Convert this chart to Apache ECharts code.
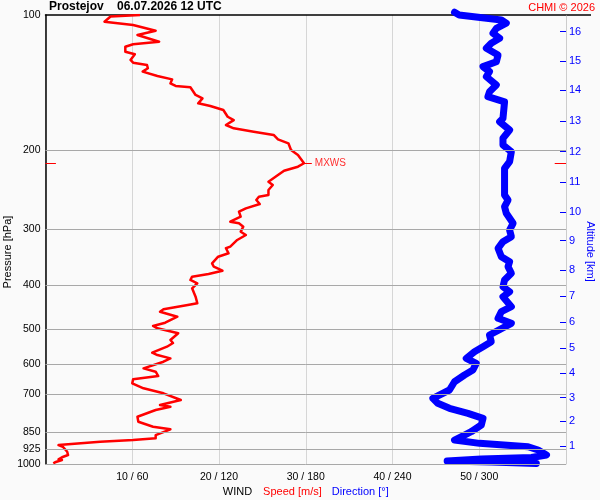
<!DOCTYPE html>
<html>
<head>
<meta charset="utf-8">
<script src="https://cdn.jsdelivr.net/npm/echarts@6.0.0/dist/echarts.min.js"></script>
<style>
html,body{margin:0;padding:0;background:#fafafa;}
#chart{width:600px;height:500px;}
</style>
</head>
<body>
<div id="chart"></div>
<script>
// ---- Data ----
// Wind speed profile [m/s] at pressure levels [hPa]
const speedPressure = [100, 100.8, 103.5, 105.3, 108.4, 110.8, 114.7, 116.2, 117.7, 120.7,
  122.3, 125.9, 127.7, 129.2, 131.4, 133.7, 136.7, 139.1, 142.0, 143.9,
  144.9, 150.7, 153.3, 157.3, 159.5, 162.8, 168.5, 171.4, 175.8, 178.8,
  181.9, 185.0, 189.2, 193.1, 199.8, 205.0, 213.9, 217.7, 222.2, 227.2,
  235.1, 239.1, 245.3, 251.7, 253.9, 258.3, 263.6, 269.5, 274.2, 281.3,
  288.6, 291.0, 296.1, 303.8, 309.0, 317.0, 328.1, 330.8, 339.4, 345.4,
  357.3, 363.6, 371.1, 377.5, 382.7, 389.2, 395.9, 406.2, 424.0, 438.6,
  442.5, 452.3, 457.9, 469.8, 484.5, 492.8, 498.7, 511.6, 529.5, 537.7,
  548.0, 565.1, 571.9, 581.7, 591.9, 612.3, 623.0, 636.9, 647.8, 661.2,
  678.4, 696.0, 720.3, 739.0, 745.5, 758.2, 784.7, 805.1, 826.0, 837.1,
  862.0, 876.8, 884.5, 892.2, 907.4, 915.4, 939.3, 955.0, 966.2, 976.2,
  979.7, 991.3, 996.4];
const speedValues = [10.9, 7.5, 6.8, 10.1, 12.7, 10.6, 13.1, 10.1, 9.2, 9.2,
  10.3, 9.8, 10.1, 11.7, 11.8, 11.2, 12.9, 14.6, 14.4, 15.0,
  16.7, 17.3, 18.1, 17.6, 19.0, 20.5, 21.0, 21.7, 20.8, 21.7,
  24.0, 26.3, 26.8, 28.0, 28.3, 29.1, 29.8, 29.1, 27.5, 26.8,
  25.7, 26.2, 25.7, 25.7, 24.6, 24.3, 24.7, 23.1, 22.3, 22.5,
  21.3, 22.3, 22.8, 22.5, 23.1, 22.1, 21.3, 20.8, 21.1, 19.9,
  19.2, 19.4, 20.4, 18.8, 16.9, 16.7, 17.5, 16.9, 17.3, 17.5,
  16.4, 13.6, 13.2, 15.2, 13.8, 12.4, 12.9, 15.3, 14.4, 14.7,
  14.0, 12.3, 12.9, 14.4, 13.6, 11.3, 12.7, 13.0, 10.1, 10.0,
  11.3, 13.6, 15.6, 13.2, 14.4, 12.7, 10.6, 10.7, 12.4, 14.4,
  12.7, 12.7, 10.1, 6.3, 1.5, 2.0, 2.5, 2.6, 1.9, 1.5,
  1.9, 1.1, 0.9];

// Wind direction profile [deg] at pressure levels [hPa]
const dirPressure = [98.6, 100, 102.6, 104.3, 107.1, 109.8, 112.7, 115.6, 118.6, 122.8,
  127.1, 130.3, 133.7, 137.2, 143.2, 148.2, 152.0, 156.1, 169.9, 172.9,
  180.4, 188.2, 194.8, 201.6, 212.2, 219.5, 251.7, 258.3, 267.3, 276.5,
  291.0, 301.2, 311.7, 319.8, 330.8, 345.4, 354.4, 363.4, 376.1, 389.2,
  402.9, 413.3, 424.0, 446.3, 457.9, 473.6, 486.1, 516.1, 534.1, 548.0,
  562.2, 581.7, 596.8, 617.6, 633.6, 655.8, 684.2, 714.1, 732.5, 751.6,
  771.1, 791.2, 818.8, 847.4, 862.0, 884.5, 899.5, 915.4, 930.7, 955.0,
  967.2, 974.6, 984.7, 989.8, 997.4];
const dirValues = [282.9, 286.1, 315.3, 318.7, 311.8, 309.5, 314.1, 308.3, 304.9, 313.0,
  311.8, 302.6, 307.1, 304.9, 311.8, 307.1, 306.0, 317.5, 316.4, 314.1,
  321.0, 316.4, 316.4, 322.2, 321.0, 317.5, 317.5, 319.9, 317.5, 318.7,
  323.4, 321.0, 322.2, 316.4, 313.0, 315.3, 321.0, 319.9, 322.2, 317.5,
  316.4, 321.0, 316.4, 322.2, 315.3, 313.0, 322.2, 307.1, 308.3, 302.6,
  296.7, 291.0, 297.9, 295.6, 289.8, 282.9, 279.4, 267.9, 271.3, 279.4,
  292.2, 302.6, 301.4, 294.4, 289.8, 282.9, 300.2, 333.8, 340.7, 346.5,
  336.1, 301.4, 277.8, 308.3, 339.5];

// Axis tick labels
const pressureTicks = [100, 200, 300, 400, 500, 600, 700, 850, 925, 1000];
const speedTicks = [10, 20, 30, 40, 50];
const altitudeKm = [1, 2, 3, 4, 5, 6, 7, 8, 9, 10, 11, 12, 13, 14, 15, 16];
const altitudePressure = [911.7, 803.5, 711.9, 628.1, 552.5, 482.8, 423.2, 369.3, 318.2, 275.1,
  235.9, 201.6, 172.0, 147.1, 126.6, 108.9];

// ---- Chart ----
const FONT = "'Liberation Sans', Arial, sans-serif";
let maxIdx = 0;
speedValues.forEach((v, i) => { if (v > speedValues[maxIdx]) maxIdx = i; });
const mxS = speedValues[maxIdx];
const mxP = speedPressure[maxIdx];

function kmFor(v) {
  let best = 0, bd = Infinity;
  altitudePressure.forEach((p, i) => {
    const d = Math.abs(Math.log(p) - Math.log(v));
    if (d < bd) { bd = d; best = i; }
  });
  return String(altitudeKm[best]);
}

const chart = echarts.init(document.getElementById('chart'), null, { renderer: 'canvas' });
const option = {
  backgroundColor: '#fafafa',
  animation: false,
  textStyle: { fontFamily: FONT },
  title: [
    { text: 'Prostejov    06.07.2026 12 UTC', left: 49, top: 1, padding: 0,
      textStyle: { fontSize: 12, fontWeight: 'bold', color: '#000', fontFamily: FONT } },
    { text: 'CHMI \u00A9 2026', right: 5, top: 2, padding: 0,
      textStyle: { fontSize: 11, fontWeight: 'normal', color: '#ff0000', fontFamily: FONT } }
  ],
  grid: { left: 45.5, right: 34, top: 15, bottom: 36, containLabel: false, outerBoundsMode: 'none' },
  xAxis: [
    { type: 'value', min: 0, max: 60, interval: 10, position: 'bottom',
      axisLine: { show: false, onZero: false }, axisTick: { show: false },
      splitLine: { show: true, lineStyle: { color: '#d6d6d6', width: 1 } },
      axisLabel: { fontSize: 10.5, color: '#000', margin: 8, fontFamily: FONT,
        formatter: v => speedTicks.indexOf(v) >= 0 ? v + ' / ' + v * 6 : '' },
      name: '{a|WIND}{b|Speed [m/s]}{c|Direction [\u00B0]}',
      nameLocation: 'middle', nameGap: 22, nameMoveOverlap: false,
      nameTextStyle: { fontFamily: FONT, rich: {
        a: { color: '#000', fontSize: 11, fontFamily: FONT },
        b: { color: '#ff0000', fontSize: 11, fontFamily: FONT, padding: [0, 10, 0, 11] },
        c: { color: '#0000ff', fontSize: 11, fontFamily: FONT } } } },
    { type: 'value', min: 0, max: 360, position: 'top',
      axisLine: { show: true, onZero: false, lineStyle: { color: '#000', width: 1.5 } },
      axisTick: { show: false }, axisLabel: { show: false }, splitLine: { show: false } }
  ],
  yAxis: [
    { type: 'log', logBase: 10, min: 100, max: 1000, inverse: true, position: 'left',
      axisLine: { show: true, onZero: false, lineStyle: { color: '#000', width: 1.5 } },
      axisTick: { show: false }, splitLine: { show: false }, minorTick: { show: false },
      axisLabel: { customValues: pressureTicks, formatter: v => String(Math.round(v)),
        fontSize: 10.5, color: '#000', margin: 5, fontFamily: FONT },
      name: 'Pressure [hPa]', nameLocation: 'middle', nameGap: 32, nameRotate: 90, nameMoveOverlap: false,
      nameTextStyle: { fontSize: 11, color: '#000', fontFamily: FONT, padding: [0, 25, 0, 0] } },
    { type: 'log', logBase: 10, min: 100, max: 1000, inverse: true, position: 'right',
      axisLine: { show: true, onZero: false, lineStyle: { color: '#cccccc', width: 1 } },
      axisTick: { show: true, inside: true, length: 6, customValues: altitudePressure,
        lineStyle: { color: '#0000ff', width: 1 } },
      splitLine: { show: false }, minorTick: { show: false },
      axisLabel: { customValues: altitudePressure, formatter: v => kmFor(v),
        fontSize: 11, color: '#0000ff', margin: 3, fontFamily: FONT },
      name: 'Altitude [km]', nameLocation: 'middle', nameGap: 19, nameRotate: -90, nameMoveOverlap: false,
      nameTextStyle: { fontSize: 11, color: '#0000ff', fontFamily: FONT, padding: [0, 0, 0, 24] } }
  ],
  graphic: [
    { type: 'line', shape: { x1: 566, y1: 15, x2: 591, y2: 15 }, style: { stroke: '#000', lineWidth: 1.5 }, silent: true }
  ],
  series: [
    { type: 'line', name: 'grid', xAxisIndex: 0, yAxisIndex: 0, data: [], silent: true, z: 1,
      markLine: { silent: true, symbol: ['none', 'none'], label: { show: false },
        lineStyle: { color: '#a8a8a8', width: 1, type: 'solid' },
        data: pressureTicks.filter(p => p > 100).map(p => ({ yAxis: p })) } },
    { type: 'line', name: 'Speed', xAxisIndex: 0, yAxisIndex: 0, z: 3,
      data: speedValues.map((s, i) => [s, speedPressure[i]]),
      symbol: 'none', showSymbol: false,
      lineStyle: { color: '#ff0000', width: 2.5, join: 'round' },
      markLine: { silent: true, symbol: ['none', 'none'], label: { show: false },
        lineStyle: { color: '#ff0000', width: 1, type: 'solid' },
        data: [
          [ { coord: [mxS, mxP], label: { show: true, position: 'end', formatter: 'MXWS',
                color: '#ff3030', fontSize: 10, distance: 3, fontFamily: FONT } },
            { coord: [mxS + 0.9, mxP] } ],
          [ { coord: [0, mxP] }, { coord: [1.2, mxP] } ],
          [ { coord: [58.7, mxP] }, { coord: [60, mxP] } ]
        ] } },
    { type: 'line', name: 'Direction', xAxisIndex: 1, yAxisIndex: 0, z: 4, clip: false,
      data: dirValues.map((d, i) => [d, dirPressure[i]]),
      symbol: 'none', showSymbol: false,
      lineStyle: { color: '#0000ff', width: 7, cap: 'round', join: 'round' } }
  ]
};
chart.setOption(option);
</script>
</body>
</html>
